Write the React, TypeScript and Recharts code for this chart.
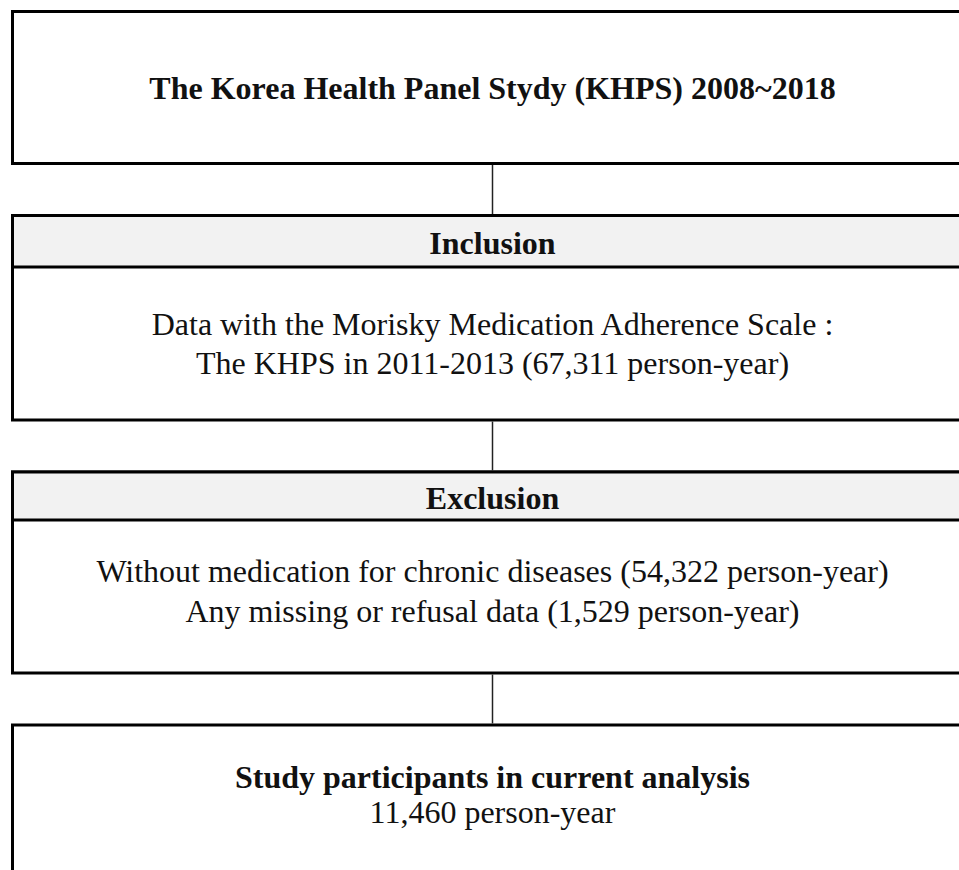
import React from 'react'
import { ComposedChart, XAxis, YAxis, ReferenceArea, ReferenceLine, Scatter } from 'recharts'

// box edges (page px, y grows downward)
const boxTops = [11.5, 215.5, 472, 725]
const boxBottoms = [163.5, 420, 673, 885]
const headerBoxes = [
  { top: 215.5, bottom: 267 },
  { top: 472, bottom: 520 },
]
const connectorX = 492.5
const boxLeft = 12.5
const boxRight = 970

// text lines: label, baseline y, bold
const lineLabels = [
  'The Korea Health Panel Stydy (KHPS) 2008~2018',
  'Inclusion',
  'Data with the Morisky Medication Adherence Scale :',
  'The KHPS in 2011-2013 (67,311 person-year)',
  'Exclusion',
  'Without medication for chronic diseases (54,322 person-year)',
  'Any missing or refusal data (1,529 person-year)',
  'Study participants in current analysis',
  '11,460 person-year',
]
const lineBaselines = [99, 254, 335, 374, 509, 582, 622, 788, 823]
const lineBold = [true, true, false, false, true, false, false, true, false]

const textData = lineLabels.map((label, i) => ({
  x: connectorX,
  y: lineBaselines[i],
  label,
  bold: lineBold[i],
}))

const TextShape = (props: any) => {
  const { cx, cy, payload } = props
  return (
    <text
      x={cx}
      y={cy}
      textAnchor="middle"
      fontFamily="'Liberation Serif', 'Times New Roman', serif"
      fontSize={32}
      fontWeight={payload.bold ? 'bold' : 'normal'}
      fill="#111"
    >
      {payload.label}
    </text>
  )
}

export default function App() {
  return (
    <div style={{ position: 'absolute', left: 0, top: 0, background: '#fff' }}>
      <ComposedChart width={959} height={870} margin={{ top: 0, right: 0, bottom: 0, left: 0 }} data={textData}>
        <XAxis dataKey="x" type="number" domain={[0, 959]} hide allowDataOverflow />
        <YAxis dataKey="y" type="number" domain={[0, 870]} reversed hide allowDataOverflow />
        {boxTops.map((top, i) => (
          <ReferenceArea
            key={`box-${i}`}
            x1={boxLeft}
            x2={boxRight}
            y1={top}
            y2={boxBottoms[i]}
            fill="#fff"
            fillOpacity={1}
            stroke="#000"
            strokeWidth={3}
            ifOverflow="visible"
          />
        ))}
        {headerBoxes.map((h, i) => (
          <ReferenceArea
            key={`head-${i}`}
            x1={boxLeft}
            x2={boxRight}
            y1={h.top}
            y2={h.bottom}
            fill="#f2f2f2"
            fillOpacity={1}
            stroke="#000"
            strokeWidth={3}
            ifOverflow="visible"
          />
        ))}
        {boxBottoms.slice(0, 3).map((b, i) => (
          <ReferenceLine
            key={`conn-${i}`}
            segment={[
              { x: connectorX, y: b + 1.5 },
              { x: connectorX, y: boxTops[i + 1] - 1.5 },
            ]}
            stroke="#222"
            strokeWidth={1.5}
            ifOverflow="visible"
          />
        ))}
        <Scatter dataKey="y" shape={TextShape} isAnimationActive={false} />
      </ComposedChart>
    </div>
  )
}
